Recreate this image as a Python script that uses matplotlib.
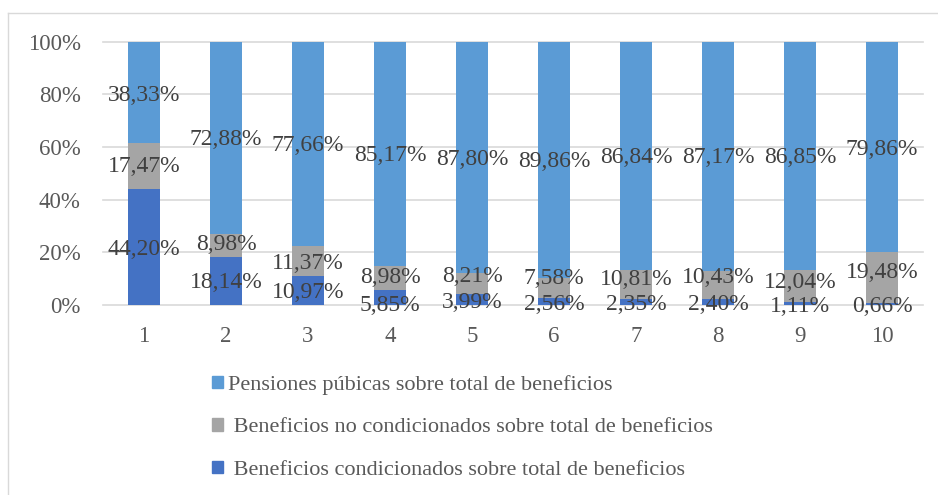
import matplotlib.pyplot as plt
from matplotlib.patches import Patch
from matplotlib.lines import Line2D
import numpy as np

plt.rcParams['font.family'] = ['Liberation Serif', 'DejaVu Serif']

categories = ['1', '2', '3', '4', '5', '6', '7', '8', '9', '10']
condicionados = [44.20, 18.14, 10.97, 5.85, 3.99, 2.56, 2.35, 2.40, 1.11, 0.66]
no_condicionados = [17.47, 8.98, 11.37, 8.98, 8.21, 7.58, 10.81, 10.43, 12.04, 19.48]
pensiones = [38.33, 72.88, 77.66, 85.17, 87.80, 89.86, 86.84, 87.17, 86.85, 79.86]

series_names = ['Pensiones púbicas sobre total de beneficios',
                ' Beneficios no condicionados sobre total de beneficios',
                ' Beneficios condicionados sobre total de beneficios']

# where the data labels sit (in % of the axis)
label_y_cond = [20.9, 8.4, 4.6, -0.4, 0.8, 0.0, 0.0, 0.0, -0.8, -0.8]
label_y_nocond = [52.4, 22.8, 15.6, 10.3, 10.6, 9.9, 9.5, 10.3, 8.4, 12.2]
label_y_pens = [79.4, 62.7, 60.4, 56.6, 55.1, 54.3, 55.8, 55.8, 55.8, 58.9]

c_dark = '#4472C4'
c_gray = '#A5A5A5'
c_light = '#5B9BD5'
txt = '#404040'

fig = plt.figure(figsize=(9.38, 4.95), dpi=100)
ax = fig.add_axes([103/938, 1 - 305/495, 820/938, 263.3/495])

x = np.arange(len(categories))
cond = np.array(condicionados)
nocond = np.array(no_condicionados)
pens = np.array(pensiones)

w = 0.39
ax.bar(x, cond, w, color=c_dark, zorder=2)
ax.bar(x, nocond, w, bottom=cond, color=c_gray, zorder=2)
ax.bar(x, pens, w, bottom=cond + nocond, color=c_light, zorder=2)

def fmt(v):
    return f"{v:.2f}%".replace('.', ',')

for i in range(len(categories)):
    ax.text(x[i], label_y_cond[i] + 0.3, fmt(cond[i]), ha='center', va='center',
            fontsize=17, color=txt, zorder=3)
    ax.text(x[i], label_y_nocond[i] + 0.3, fmt(nocond[i]), ha='center', va='center',
            fontsize=17, color=txt, zorder=3)
    ax.text(x[i], label_y_pens[i] + 0.3, fmt(pens[i]), ha='center', va='center',
            fontsize=17, color=txt, zorder=3)

ax.set_xlim(-0.5, len(categories) - 0.5)
ax.set_ylim(0, 100)
ax.set_yticks(range(0, 101, 20))
ax.set_yticklabels([f"{t}%" for t in range(0, 101, 20)])
ax.set_xticks(x)
ax.set_xticklabels(categories)
ax.tick_params(axis='y', length=0, pad=16, labelsize=16.5, labelcolor='#595959')
ax.tick_params(axis='x', length=0, pad=15, labelsize=16.5, labelcolor='#595959')
for s in ax.spines.values():
    s.set_visible(False)
ax.grid(axis='y', color='#D9D9D9', linewidth=1.2, zorder=0)
for gl in ax.get_ygridlines():
    gl.set_clip_on(False)

handles = [Patch(color=c_light), Patch(color=c_gray), Patch(color=c_dark)]
fig.legend(handles, series_names, loc='upper left',
           bbox_to_anchor=(212/938, 1 - 375/495), frameon=False, fontsize=16,
           handlelength=0.5, handleheight=0.5, handletextpad=0.2,
           labelspacing=1.05, borderpad=0, borderaxespad=0, labelcolor='#595959')

# chart area border (left and top edges visible)
fig.add_artist(Line2D([8/938, 8/938], [0, 1 - 13/495], transform=fig.transFigure,
                      color='#D9D9D9', linewidth=1))
fig.add_artist(Line2D([8/938, 1], [1 - 13/495, 1 - 13/495], transform=fig.transFigure,
                      color='#D9D9D9', linewidth=1))

fig.savefig('out.png', dpi=100)
